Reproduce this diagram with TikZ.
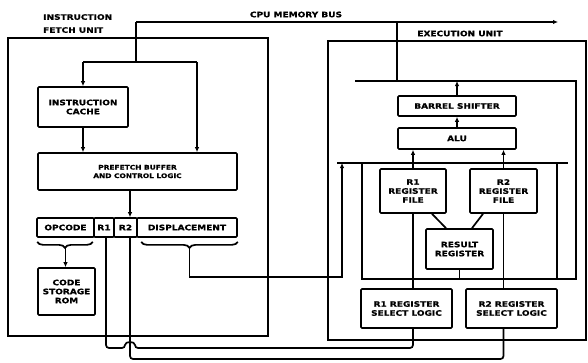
\documentclass[tikz,border=0pt]{standalone}
\usepackage{fontspec}
\newfontfamily\lblfont[FakeStretch=1.2,FakeBold=0.8]{DejaVu Sans}
\usetikzlibrary{arrows.meta,decorations.pathreplacing,calc}
\begin{document}
\begin{tikzpicture}[x=1pt,y=-1pt,
  ln/.style={line width=1.7pt},
  arr/.style={ln,-{Latex[length=5pt,width=4.5pt]}},
  blk/.style={draw,line width=1.7pt,rounded corners=1pt,inner sep=1pt,align=center,
    font=\lblfont\bfseries\fontsize{7.5}{9}\selectfont},
  small/.style={font=\lblfont\bfseries\fontsize{6.2}{8.5}\selectfont},
  fld/.style={blk,minimum height=19},
  ttl/.style={inner sep=0pt,align=left,font=\lblfont\bfseries\fontsize{7.5}{9}\selectfont},
]
\useasboundingbox (0,0) rectangle (588,362);

% containers
\node[blk,rounded corners=0pt,minimum width=260,minimum height=298] (fu) at (138,187) {};
\node[blk,rounded corners=0pt,minimum width=258,minimum height=299] (eu) at (457,190.5) {};

% titles
\node[ttl,anchor=north west] (fut) at (43,14) {INSTRUCTION\\[4pt]FETCH UNIT};
\node[ttl] (bust) at (296,14.5) {CPU MEMORY BUS};
\node[ttl] (eut) at (460,33.5) {EXECUTION UNIT};

% fetch unit blocks
\node[blk,minimum width=90,minimum height=40] (ic) at (83,107) {INSTRUCTION\\CACHE};
\node[blk,small,minimum width=199,minimum height=37] (pf) at (137.5,171.5) {PREFETCH BUFFER\\AND CONTROL LOGIC};
\node[fld,minimum width=57] (opc) at (65.5,227.5) {OPCODE};
\node[fld,minimum width=20] (fr1) at (104,227.5) {R1};
\node[fld,minimum width=23] (fr2) at (125.5,227.5) {R2};
\node[fld,minimum width=100] (disp) at (187,227.5) {DISPLACEMENT};
\node[blk,minimum width=57,minimum height=47] (rom) at (66.5,291.5) {CODE\\STORAGE\\ROM};

% execution unit blocks
\node[blk,minimum width=118,minimum height=20] (bs) at (457,106) {BARREL SHIFTER};
\node[blk,minimum width=118,minimum height=21] (alu) at (457,138.5) {ALU};
\node[blk,minimum width=66,minimum height=44] (rf1) at (413,191) {R1\\REGISTER\\FILE};
\node[blk,minimum width=67,minimum height=44] (rf2) at (503.5,191) {R2\\REGISTER\\FILE};
\node[blk,minimum width=67,minimum height=40] (res) at (459.5,249) {RESULT\\REGISTER};
\node[blk,minimum width=91,minimum height=39] (sel1) at (406.5,308.5) {R1 REGISTER\\SELECT LOGIC};
\node[blk,minimum width=91,minimum height=39] (sel2) at (511.5,308.5) {R2 REGISTER\\SELECT LOGIC};

% CPU memory bus
\coordinate (busL) at (136,22);
\coordinate (busR) at (558,22);
\coordinate (fork) at (136,62);
\coordinate (forkL) at (83,62);
\coordinate (forkR) at (197,62);
\draw[arr] (busL) -- (busR);
\draw[ln] (busL) -- (fork);
\draw[ln] (forkL) -- (forkR);
\draw[arr] (forkL) -- (ic.north);
\draw[arr] (forkR) -- (forkR |- pf.north);
\draw[arr] (ic.south) -- (ic.south |- pf.north);
\coordinate (xr2) at (130,0);
\draw[arr] (pf.south -| xr2) -- (fr2.north -| xr2);

% braces
\draw[ln,decorate,decoration={brace,mirror,amplitude=6pt}]
  ($(opc.south west)+(1,4)$) -- ($(opc.south east)+(-2,4)$);
\coordinate (optip) at ($(opc.south)+(0,10)$);
\draw[arr] (optip) -- (optip |- rom.north);
\draw[ln,decorate,decoration={brace,mirror,amplitude=6pt}]
  ($(disp.south west)+(5,4)$) -- ($(disp.south east)+(0,4)$);
\coordinate (dtip) at ($(disp.south)+(2.5,10)$);
\coordinate (dturn) at (342,277);
\coordinate (dispIn) at (342,163);
\draw[arr] (dtip) |- (dturn) -- (dispIn);

% execution unit internal buses
\coordinate (euBus) at (397,22);
\coordinate (euDrop) at (397,81);
\coordinate (ibL) at (355,81);
\coordinate (ibR) at (576,81);
\coordinate (ibBR) at (576,279);
\coordinate (ibBL) at (362,279);
\coordinate (ibT) at (362,163);
\coordinate (rbL) at (337,163);
\coordinate (rbR) at (568,163);
\coordinate (rbX) at (557,163);
\coordinate (rbXb) at (557,279);
\draw[ln] (euBus) -- (euDrop);
\draw[ln] (ibL) -- (ibR) -- (ibBR) -- (ibBL) -- (ibT);
\draw[ln] (rbL) -- (rbR);
\draw[ln] (rbX) -- (rbXb);
\draw[arr] (bs.north) -- (bs.north |- ibL);
\draw[arr] (alu.north) -- (bs.south);
\draw[arr] (rf1.north) -- (rf1.north |- alu.south);
\draw[arr] (rf2.north) -- (rf2.north |- alu.south);
\draw[ln] ($(rf1.south)+(19,0)$) -- ($(res.north)+(-13.5,0)$);
\draw[ln] ($(rf2.south)+(-20.5,0)$) -- ($(res.north)+(12.5,0)$);
\draw[ln] (res.south) -- (res.south |- ibBL);
\draw[ln] (rf1.south) -- (rf1.south |- sel1.north);
\draw[ln] (rf2.south) -- (rf2.south |- sel2.north);

% R1 / R2 lines from instruction register to select logic
\coordinate (r1y) at (0,348);
\coordinate (r2y) at (0,359);
\coordinate (r1out) at ($(fr1.south)+(2,0)$);
\coordinate (hopA) at (125,348);
\coordinate (hopB) at (135,348);
\draw[ln,rounded corners=3pt] (r1out) -- (r1out |- r1y) -- (hopA)
  .. controls (125,341) and (135,341) .. (hopB) -- (rf1.south |- r1y) -- (rf1.south |- sel1.south);
\draw[ln,rounded corners=3pt] (fr2.south -| xr2) -- (xr2 |- r2y) -- (rf2.south |- r2y) -- (rf2.south |- sel2.south);
\end{tikzpicture}
\end{document}
